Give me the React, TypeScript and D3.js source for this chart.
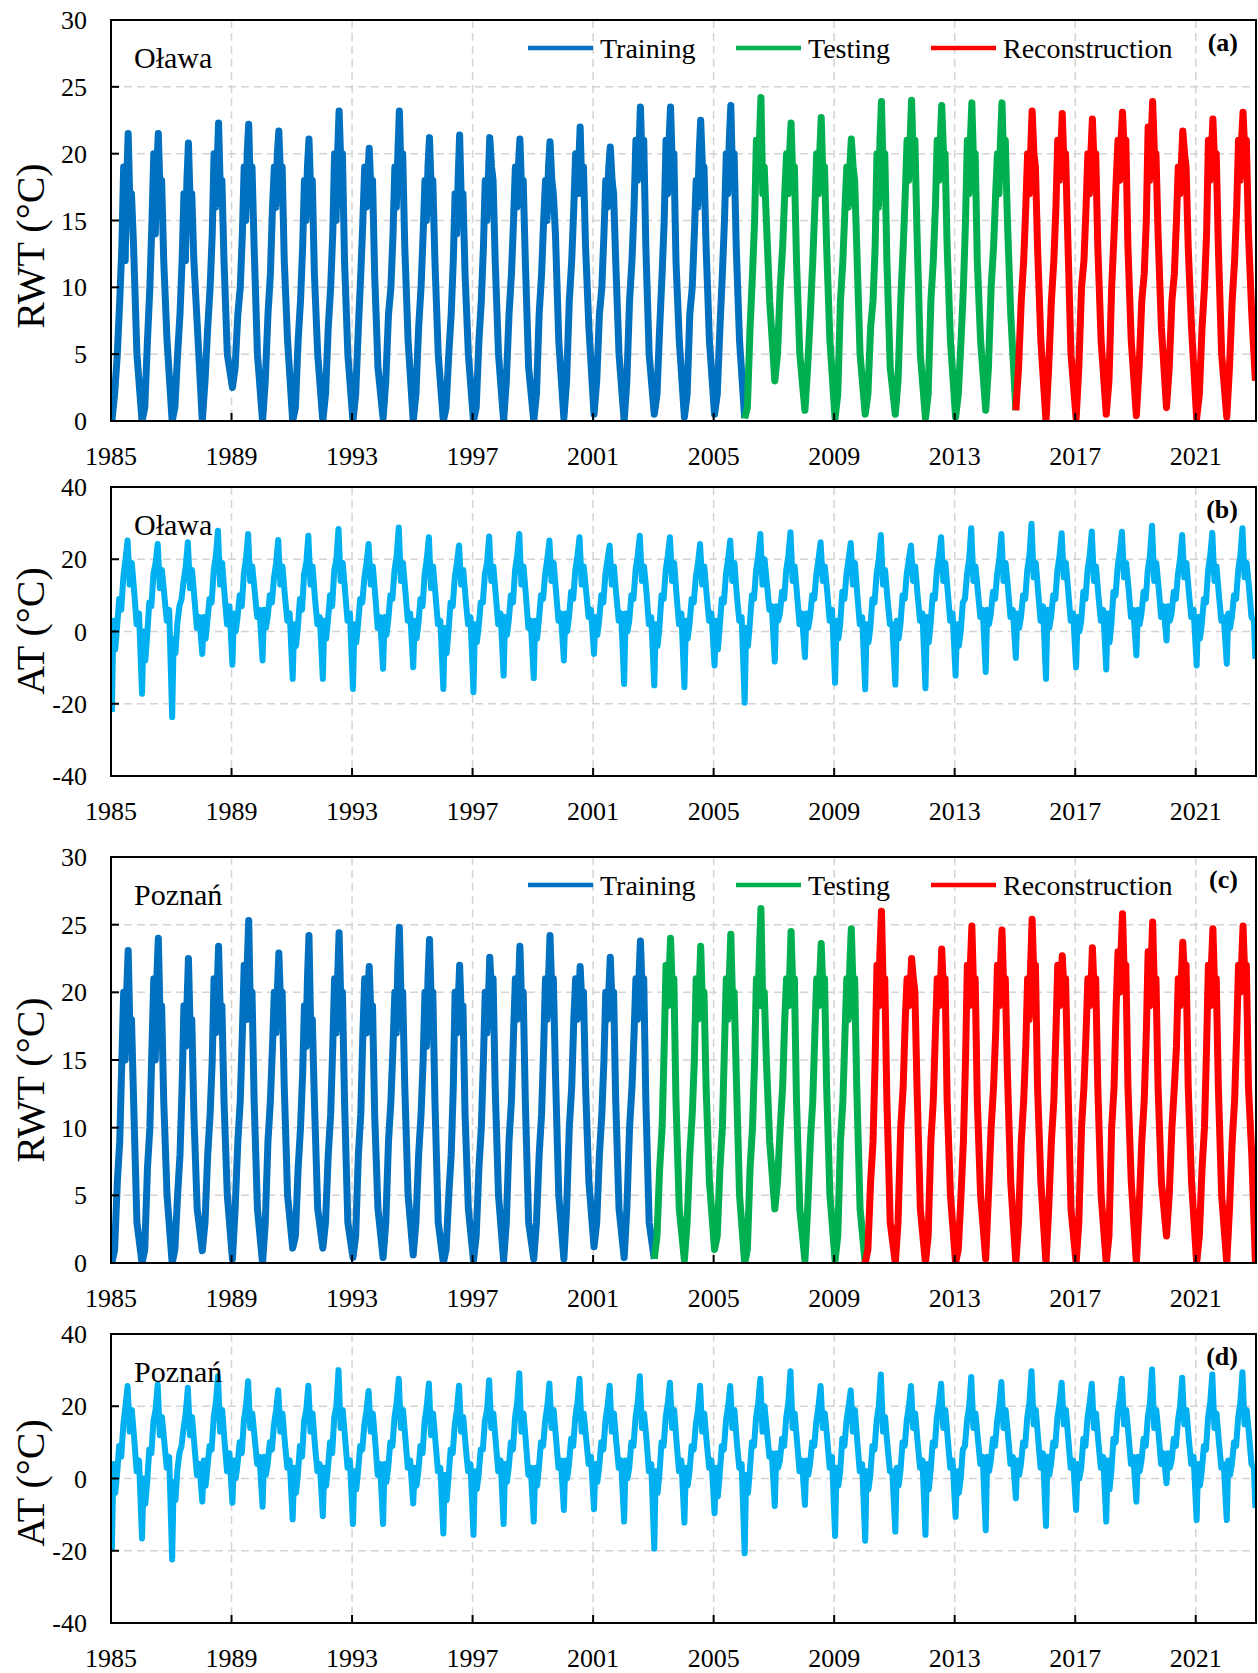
import React from "react";
import * as d3 from "d3";

// sample positions inside each year (fraction of the year)
const rwtPhase = [0.03, 0.12, 0.21, 0.29, 0.36, 0.42, 0.47, 0.52, 0.57, 0.63, 0.68, 0.75, 0.86];
const atPhase = [0.03, 0.08, 0.14, 0.2, 0.27, 0.34, 0.41, 0.48, 0.55, 0.62, 0.69, 0.77, 0.85, 0.93];

// river water temperature, Oława, one row per year 1985..2022
const olawaRwt = [
  [0, 2, 5, 9, 13, 19, 12, 18, 21.5, 16, 17, 13, 5],
  [0, 1, 6, 10, 15, 20, 14, 19, 21.5, 17, 18, 12, 6],
  [0, 1, 5, 8, 12, 17, 12, 18, 20.8, 16, 17, 12, 7.3],
  [0, 3, 7, 10, 14, 20, 16, 19, 22.3, 17, 18, 12, 5],
  [2.5, 4, 8, 10, 14, 19, 15, 20, 22.2, 17, 19, 13, 5],
  [0, 3, 8, 11, 16, 19, 16, 20, 21.7, 18, 19, 12, 6],
  [0, 1, 6, 9, 13, 18, 15, 19, 21.1, 17, 18, 11, 5],
  [0, 2, 7, 10, 14, 20, 15, 20, 23.2, 19, 20, 12, 5],
  [0, 2, 7, 11, 15, 19, 16, 18, 20.4, 17, 18, 11, 4],
  [0.2, 3, 8, 10, 14, 19, 16, 20, 23.2, 18, 20, 13, 6],
  [0, 2, 7, 10, 14, 18, 15, 19, 21.2, 17, 18, 12, 5],
  [0, 1, 5, 8, 12, 17, 14, 18, 21.4, 16, 17, 11, 5],
  [0, 1, 6, 9, 13, 18, 15, 18, 21.2, 19, 18, 12, 5],
  [0, 3, 8, 11, 15, 19, 16, 19, 21.1, 17, 18, 12, 4],
  [0, 2, 8, 11, 15, 18, 15, 19, 20.9, 18, 17, 14, 6],
  [0.2, 3, 9, 12, 16, 20, 17, 19, 22.0, 17, 19, 13, 7],
  [0.5, 3, 8, 10, 14, 18, 16, 19, 20.5, 18, 17, 12, 5],
  [0, 3, 9, 12, 16, 21, 18, 20, 23.5, 19, 21, 13, 5],
  [0.5, 2, 7, 11, 15, 21, 17, 21, 23.5, 19, 20, 12, 6],
  [0.3, 2, 8, 10, 14, 18, 16, 20, 22.5, 19, 19, 13, 6],
  [0.5, 2, 7, 11, 15, 20, 17, 21, 23.6, 18, 20, 13, 6],
  [0.2, 1, 7, 11, 15, 21, 18, 21, 24.2, 17, 19, 15, 9],
  [3, 5, 10, 13, 17, 20, 17, 20, 22.3, 18, 19, 12, 5],
  [0.8, 4, 8, 12, 16, 20, 17, 20, 22.7, 18, 19, 13, 6],
  [0.2, 2, 9, 12, 16, 19, 16, 19, 21.1, 19, 18, 13, 5],
  [0.5, 2, 7, 9, 13, 20, 16, 21, 23.9, 18, 20, 12, 4],
  [0.5, 3, 9, 13, 17, 21, 18, 21, 24.0, 19, 21, 14, 5],
  [0.2, 2, 9, 12, 16, 21, 18, 21, 23.6, 20, 20, 13, 6],
  [0.3, 2, 6, 10, 15, 21, 17, 21, 23.8, 19, 20, 12, 6],
  [0.8, 4, 10, 13, 17, 20, 17, 21, 23.8, 19, 21, 15, 8],
  [0.8, 4, 9, 12, 16, 20, 17, 20, 23.2, 20, 19, 13, 6],
  [0, 4, 9, 12, 16, 21, 18, 20, 23.0, 19, 20, 14, 5],
  [0.2, 4, 10, 12, 16, 20, 17, 20, 22.6, 19, 20, 13, 6],
  [0.5, 3, 10, 14, 18, 21, 18, 21, 23.1, 20, 21, 13, 6],
  [0.4, 4, 9, 11, 15, 22, 18, 21, 23.9, 20, 20, 14, 7],
  [1.0, 4, 9, 11, 15, 19, 17, 19, 21.7, 20, 19, 13, 7],
  [0.2, 2, 7, 10, 14, 21, 18, 20, 22.6, 19, 20, 13, 5],
  [0.3, 4, 9, 12, 16, 21, 18, 21, 23.1, 20, 21, 14, 8],
];
const olawaRwtEnd = 3;

// air temperature, Oława
const olawaAt = [
  [-22.3, 3, -5, 1, 9, 6, 15, 20, 25.2, 13, 19, 11, 2, 5],
  [-17.2, 0, -8, -1, 8, 7, 16, 19, 24.2, 12, 17, 10, 3, 6],
  [-23.7, -2, -6, 2, 7, 9, 14, 18, 24.7, 12, 17, 9, 1, 4],
  [-6.2, 4, -2, 3, 9, 8, 17, 21, 27.9, 13, 19, 10, 2, 7],
  [-9.2, 5, 0, 4, 10, 7, 16, 20, 27.0, 14, 18, 11, 4, 6],
  [-8.0, 6, 1, 4, 10, 8, 15, 19, 25.3, 13, 18, 10, 3, 5],
  [-13.1, 2, -4, 1, 9, 6, 16, 19, 26.5, 13, 18, 9, 2, 4],
  [-13.1, 3, -2, 3, 10, 7, 17, 20, 28.4, 14, 19, 11, 3, 5],
  [-15.9, 2, -3, 2, 9, 8, 15, 19, 24.2, 13, 18, 10, 1, 4],
  [-10.3, 4, -1, 3, 10, 9, 17, 21, 28.8, 14, 19, 11, 3, 5],
  [-9.9, 3, -2, 2, 9, 7, 16, 20, 26.1, 12, 18, 10, 2, 3],
  [-15.9, 1, -6, 0, 8, 7, 15, 19, 23.8, 13, 17, 9, 2, 4],
  [-16.8, 2, -3, 1, 8, 8, 16, 19, 26.3, 14, 18, 10, 2, 5],
  [-12.2, 4, -1, 3, 10, 8, 17, 21, 27.0, 13, 18, 10, 1, 3],
  [-12.9, 3, -2, 3, 10, 9, 16, 20, 25.2, 14, 19, 11, 3, 5],
  [-8.0, 5, 0, 4, 11, 9, 17, 21, 26.1, 13, 18, 11, 4, 6],
  [-6.2, 4, -1, 3, 10, 8, 16, 20, 23.8, 13, 18, 10, 3, 5],
  [-14.5, 5, 0, 3, 10, 9, 17, 21, 26.5, 14, 18, 11, 2, 4],
  [-14.9, 2, -4, 1, 10, 9, 17, 21, 26.1, 14, 19, 10, 2, 5],
  [-15.4, 3, -2, 2, 9, 8, 15, 19, 24.2, 13, 18, 10, 3, 5],
  [-9.4, 3, -5, 1, 9, 8, 16, 20, 25.2, 14, 19, 10, 3, 4],
  [-19.7, 1, -4, 2, 10, 9, 17, 21, 27.0, 13, 20, 13, 6, 7],
  [-8.3, 7, 3, 5, 11, 9, 17, 21, 27.5, 14, 18, 10, 2, 5],
  [-7.1, 5, 1, 4, 10, 9, 16, 20, 24.7, 14, 18, 11, 3, 6],
  [-14.2, 3, -2, 2, 11, 9, 16, 20, 24.5, 13, 19, 10, 2, 4],
  [-16.0, 2, -3, 1, 9, 8, 16, 20, 26.7, 13, 17, 9, 2, 2],
  [-14.7, 3, -2, 2, 10, 9, 16, 20, 23.8, 14, 18, 10, 3, 5],
  [-15.7, 4, -3, 2, 10, 9, 17, 21, 26.1, 14, 19, 11, 3, 5],
  [-12.2, 2, -4, 0, 8, 9, 16, 20, 28.6, 14, 18, 11, 4, 6],
  [-11.2, 6, 2, 5, 11, 9, 16, 20, 27.0, 14, 19, 12, 4, 6],
  [-7.3, 5, 1, 4, 10, 9, 17, 21, 29.8, 15, 19, 11, 3, 7],
  [-13.1, 6, 1, 4, 10, 9, 17, 21, 27.2, 15, 19, 11, 3, 5],
  [-9.9, 4, 0, 3, 11, 9, 17, 21, 27.7, 14, 18, 10, 3, 6],
  [-10.5, 5, -3, 2, 11, 10, 18, 22, 27.6, 15, 19, 12, 4, 6],
  [-6.6, 6, 2, 5, 11, 9, 17, 21, 29.3, 14, 19, 12, 4, 7],
  [-2.5, 7, 3, 5, 11, 9, 16, 20, 26.7, 15, 19, 11, 4, 6],
  [-9.4, 4, -2, 2, 9, 8, 17, 21, 27.3, 14, 18, 10, 3, 4],
  [-8.9, 5, 1, 4, 10, 9, 17, 21, 28.6, 15, 19, 12, 4, 3],
];
const olawaAtEnd = -7.6;

// river water temperature, Poznań
const poznanRwt = [
  [0, 1, 6, 9, 15, 20, 15, 20, 23.1, 17, 18, 12, 3],
  [0, 1, 7, 10, 16, 21, 15, 21, 24.0, 18, 19, 12, 5],
  [0, 1, 5, 8, 13, 19, 16, 19, 22.5, 17, 18, 11, 4],
  [0.9, 3, 8, 11, 15, 21, 17, 20, 23.4, 18, 19, 12, 5],
  [0.3, 4, 9, 12, 17, 22, 18, 22, 25.3, 18, 20, 12, 4],
  [0, 3, 9, 12, 16, 20, 17, 20, 22.9, 19, 20, 13, 5],
  [1.1, 2, 7, 10, 14, 19, 16, 21, 24.2, 17, 18, 12, 4],
  [1.1, 3, 8, 11, 16, 21, 17, 21, 24.4, 19, 20, 12, 3],
  [0.4, 2, 8, 11, 17, 21, 17, 19, 21.9, 18, 19, 11, 4],
  [0.4, 3, 9, 12, 16, 20, 17, 22, 24.8, 19, 20, 13, 5],
  [0.6, 3, 8, 11, 15, 20, 16, 21, 23.9, 19, 20, 12, 3],
  [0, 1, 5, 8, 13, 20, 17, 19, 22.0, 18, 19, 11, 4],
  [0.2, 2, 7, 10, 15, 20, 17, 19, 22.6, 20, 21, 13, 5],
  [0.2, 3, 9, 12, 17, 21, 18, 20, 23.4, 19, 20, 12, 3],
  [0.3, 3, 8, 11, 16, 21, 18, 21, 24.2, 20, 21, 14, 5],
  [0.3, 4, 10, 13, 18, 21, 18, 19, 21.9, 19, 20, 13, 6],
  [1.2, 3, 8, 11, 15, 20, 18, 20, 22.6, 19, 20, 12, 4],
  [0.4, 4, 10, 13, 17, 21, 18, 21, 23.8, 20, 21, 12, 3],
  [0.3, 2, 7, 10, 16, 22, 19, 21, 24.0, 20, 21, 12, 4],
  [0.2, 3, 8, 11, 15, 21, 18, 20, 23.4, 19, 20, 13, 6],
  [1.0, 2, 7, 10, 16, 21, 18, 21, 24.3, 19, 20, 14, 5],
  [0, 1, 7, 10, 15, 21, 19, 23, 26.2, 19, 20, 15, 9],
  [4.0, 6, 10, 13, 18, 21, 19, 21, 24.5, 20, 21, 12, 4],
  [0.2, 4, 9, 12, 17, 21, 19, 21, 23.6, 20, 21, 13, 5],
  [0.2, 2, 9, 12, 17, 21, 18, 22, 24.7, 20, 21, 13, 4],
  [0, 1, 6, 9, 15, 22, 19, 23, 26.0, 20, 21, 12, 3],
  [0, 3, 10, 13, 18, 21, 19, 20, 22.5, 21, 20, 13, 4],
  [0, 2, 9, 12, 17, 21, 19, 20, 23.2, 20, 21, 12, 5],
  [0, 1, 5, 9, 15, 22, 19, 22, 24.9, 20, 21, 12, 5],
  [0.3, 5, 10, 13, 17, 22, 19, 22, 24.6, 20, 21, 14, 6],
  [0, 3, 9, 12, 16, 21, 18, 22, 25.4, 21, 22, 13, 6],
  [0, 4, 9, 12, 17, 22, 19, 20, 22.7, 20, 21, 14, 4],
  [0, 3, 10, 13, 17, 21, 19, 20, 23.3, 20, 21, 13, 5],
  [0, 2, 10, 13, 19, 23, 20, 23, 25.8, 21, 22, 13, 6],
  [0, 4, 9, 12, 17, 23, 19, 22, 25.2, 20, 21, 13, 6],
  [2.0, 5, 10, 13, 16, 21, 19, 21, 23.7, 21, 22, 13, 6],
  [0, 2, 7, 10, 16, 22, 19, 22, 24.7, 20, 21, 13, 5],
  [0, 4, 9, 12, 17, 22, 20, 22, 24.9, 21, 22, 13, 8],
];
const poznanRwtEnd = 0;

// air temperature, Poznań
const poznanAt = [
  [-19.8, 4, -4, 1, 9, 6, 15, 20, 25.6, 13, 19, 11, 2, 5],
  [-16.6, 0, -7, -1, 8, 7, 16, 19, 26.0, 12, 17, 10, 3, 6],
  [-22.4, -1, -6, 2, 7, 9, 14, 18, 25.1, 12, 17, 9, 1, 4],
  [-6.4, 5, -2, 3, 9, 8, 17, 21, 28.3, 13, 19, 10, 2, 7],
  [-6.7, 5, 0, 4, 10, 7, 16, 20, 26.9, 14, 18, 11, 4, 6],
  [-7.8, 6, 1, 4, 10, 8, 15, 19, 24.4, 13, 18, 10, 3, 5],
  [-11.3, 3, -4, 1, 9, 6, 16, 19, 25.7, 13, 18, 9, 2, 4],
  [-10.4, 3, -2, 3, 10, 7, 17, 20, 30.0, 14, 19, 11, 3, 5],
  [-12.6, 2, -3, 2, 9, 8, 15, 19, 24.2, 13, 18, 10, 1, 4],
  [-12.6, 4, -1, 3, 10, 9, 17, 21, 27.6, 14, 19, 11, 3, 5],
  [-6.9, 3, -2, 2, 9, 7, 16, 20, 26.3, 12, 18, 10, 2, 3],
  [-15.2, 1, -6, 0, 8, 7, 15, 19, 25.7, 13, 17, 9, 2, 4],
  [-15.6, 2, -3, 1, 8, 8, 16, 19, 27.2, 14, 18, 10, 2, 5],
  [-12.6, 4, -1, 3, 10, 8, 17, 21, 29.1, 13, 18, 10, 1, 3],
  [-11.9, 3, -2, 3, 10, 9, 16, 20, 26.3, 14, 19, 11, 3, 5],
  [-8.7, 5, 0, 4, 11, 9, 17, 21, 27.6, 13, 18, 11, 4, 6],
  [-8.5, 4, -1, 3, 10, 8, 16, 20, 25.7, 13, 18, 10, 3, 5],
  [-11.9, 5, 0, 3, 10, 9, 17, 21, 28.3, 14, 18, 11, 2, 4],
  [-19.4, 2, -4, 1, 10, 9, 17, 21, 26.5, 14, 19, 10, 2, 5],
  [-12.2, 3, -2, 2, 9, 8, 15, 19, 25.7, 13, 18, 10, 3, 5],
  [-9.6, 3, -5, 1, 9, 8, 16, 20, 25.6, 14, 19, 10, 3, 4],
  [-20.7, 1, -4, 2, 10, 9, 17, 21, 27.6, 13, 20, 13, 6, 7],
  [-7.6, 7, 3, 5, 11, 9, 17, 21, 29.7, 14, 18, 10, 2, 5],
  [-7.3, 5, 1, 4, 10, 9, 16, 20, 25.6, 14, 18, 11, 3, 6],
  [-15.9, 3, -2, 2, 11, 9, 16, 20, 24.4, 13, 19, 10, 2, 4],
  [-17.2, 2, -3, 1, 9, 8, 16, 20, 28.8, 13, 17, 9, 2, 2],
  [-14.7, 3, -2, 2, 10, 9, 16, 20, 25.6, 14, 18, 10, 3, 5],
  [-15.6, 4, -3, 2, 10, 9, 17, 21, 26.2, 14, 19, 11, 3, 5],
  [-10.6, 2, -4, 0, 8, 9, 16, 20, 28.1, 14, 18, 11, 4, 6],
  [-14.3, 6, 2, 5, 11, 9, 16, 20, 26.7, 14, 19, 12, 4, 6],
  [-5.5, 5, 1, 4, 10, 9, 17, 21, 29.7, 15, 19, 11, 3, 7],
  [-13.1, 6, 1, 4, 10, 9, 17, 21, 26.5, 15, 19, 11, 3, 5],
  [-8.7, 4, 0, 3, 11, 9, 17, 21, 26.2, 14, 18, 10, 3, 6],
  [-11.9, 5, -3, 2, 11, 10, 18, 22, 27.6, 15, 19, 12, 4, 6],
  [-6.4, 6, 2, 5, 11, 9, 17, 21, 30.2, 14, 19, 12, 4, 7],
  [-1.3, 7, 3, 5, 11, 9, 16, 20, 27.9, 15, 19, 11, 4, 6],
  [-11.5, 4, -2, 2, 9, 8, 17, 21, 28.8, 14, 18, 10, 3, 4],
  [-11.5, 5, 1, 4, 10, 9, 17, 21, 29.4, 15, 19, 12, 4, 3],
];
const poznanAtEnd = -8.2;

const xTicks = [1985, 1989, 1993, 1997, 2001, 2005, 2009, 2013, 2017, 2021];
const rwtTicks = [0, 5, 10, 15, 20, 25, 30];
const atTicks = [-40, -20, 0, 20, 40];
const legendNames = ["Training", "Testing", "Reconstruction"];
const colors = ["#0070C0", "#00B050", "#FF0000"];
const atColor = "#00B0F0";
const olawaSplits = [2006, 2015];
const poznanSplits = [2003, 2010];

const FONT = "'Liberation Serif', 'Times New Roman', serif";
const x = d3.scaleLinear().domain([1985, 2023]).range([111, 1256]);

function toPoints(rows: number[][], phase: number[], end: number) {
  const pts: [number, number][] = [];
  rows.forEach((row, i) => row.forEach((v, j) => pts.push([1985 + i + phase[j], v])));
  pts.push([2022.98, end]);
  return pts;
}

function split(pts: [number, number][], cuts: number[]) {
  const bounds = [-Infinity, ...cuts, Infinity];
  return bounds.slice(0, -1).map((b, k) => {
    const seg = pts.filter((p) => p[0] >= b && p[0] < bounds[k + 1]);
    const next = pts.find((p) => p[0] >= bounds[k + 1]);
    if (next) seg.push(next);
    return seg;
  });
}

type PanelProps = {
  top: number;
  bottom: number;
  domain: [number, number];
  ticks: number[];
  title: string;
  titleY: number;
  station: string;
  tag: string;
  lines: { pts: [number, number][]; color: string }[];
  width: number;
  legend: boolean;
};

function Panel(p: PanelProps) {
  const y = d3.scaleLinear().domain(p.domain).range([p.bottom, p.top]);
  const line = d3
    .line<[number, number]>()
    .x((d) => x(d[0]))
    .y((d) => y(d[1]));
  const [x0, x1] = x.range();
  return (
    <g>
      {xTicks.slice(1).map((t) => (
        <line key={"gx" + t} x1={x(t)} x2={x(t)} y1={p.top} y2={p.bottom} stroke="#d4d4d4" strokeWidth={1.5} strokeDasharray="8,5" />
      ))}
      {p.ticks.slice(1, -1).map((t) => (
        <line key={"gy" + t} x1={x0} x2={x1} y1={y(t)} y2={y(t)} stroke="#d4d4d4" strokeWidth={1.5} strokeDasharray="8,5" />
      ))}
      <clipPath id={"clip" + p.tag}>
        <rect x={x0} y={p.top} width={x1 - x0} height={p.bottom - p.top} />
      </clipPath>
      <g clipPath={`url(#clip${p.tag})`}>
        {p.lines.map((l, i) => (
          <path key={i} d={line(l.pts) || ""} fill="none" stroke={l.color} strokeWidth={p.width} strokeLinejoin="round" />
        ))}
      </g>
      <rect x={x0} y={p.top} width={x1 - x0} height={p.bottom - p.top} fill="none" stroke="#000" strokeWidth={2} />
      {p.ticks.map((t) => (
        <g key={"ty" + t}>
          <line x1={x0} x2={x0 + 8} y1={y(t)} y2={y(t)} stroke="#000" strokeWidth={2} />
          <text x={87} y={y(t)} dy="0.35em" textAnchor="end" fontSize={26} fontFamily={FONT}>
            {t}
          </text>
        </g>
      ))}
      {xTicks.map((t) => (
        <g key={"tx" + t}>
          <line x1={x(t)} x2={x(t)} y1={p.bottom} y2={p.bottom - 8} stroke="#000" strokeWidth={2} />
          <text x={x(t)} y={p.bottom + 44} textAnchor="middle" fontSize={26} fontFamily={FONT}>
            {t}
          </text>
        </g>
      ))}
      <text transform={`translate(44,${p.titleY}) rotate(-90)`} textAnchor="middle" fontSize={40} fontFamily={FONT}>
        {p.title}
      </text>
      <text x={134} y={p.top + 48} fontSize={30} fontFamily={FONT}>
        {p.station}
      </text>
      <text x={1238} y={p.top + 31} textAnchor="end" fontSize={26} fontWeight="bold" fontFamily={FONT}>
        ({p.tag})
      </text>
      {p.legend &&
        legendNames.map((n, i) => {
          const lx = [528, 736, 931][i];
          return (
            <g key={n}>
              <line x1={lx} x2={lx + 65} y1={p.top + 28} y2={p.top + 28} stroke={colors[i]} strokeWidth={4.5} />
              <text x={lx + 72} y={p.top + 38} fontSize={28} fontFamily={FONT}>
                {n}
              </text>
            </g>
          );
        })}
    </g>
  );
}

export default function App() {
  const aSegs = split(toPoints(olawaRwt, rwtPhase, olawaRwtEnd), olawaSplits);
  const cSegs = split(toPoints(poznanRwt, rwtPhase, poznanRwtEnd), poznanSplits);
  const bPts = toPoints(olawaAt, atPhase, olawaAtEnd);
  const dPts = toPoints(poznanAt, atPhase, poznanAtEnd);
  return (
    <>
      <style>{"body{margin:0;background:#fff}"}</style>
      <svg width={1258} height={1673} style={{ display: "block", background: "#fff" }}>
        <Panel top={20} bottom={421} domain={[0, 30]} ticks={rwtTicks} title="RWT (°C)" titleY={246} station="Oława" tag="a"
          lines={aSegs.map((s, i) => ({ pts: s, color: colors[i] }))} width={7} legend={true} />
        <Panel top={487} bottom={776} domain={[-40, 40]} ticks={atTicks} title="AT (°C)" titleY={631} station="Oława" tag="b"
          lines={[{ pts: bPts, color: atColor }]} width={6} legend={false} />
        <Panel top={857} bottom={1263} domain={[0, 30]} ticks={rwtTicks} title="RWT (°C)" titleY={1080} station="Poznań" tag="c"
          lines={cSegs.map((s, i) => ({ pts: s, color: colors[i] }))} width={7} legend={true} />
        <Panel top={1334} bottom={1623} domain={[-40, 40]} ticks={atTicks} title="AT (°C)" titleY={1483} station="Poznań" tag="d"
          lines={[{ pts: dPts, color: atColor }]} width={6} legend={false} />
      </svg>
    </>
  );
}
